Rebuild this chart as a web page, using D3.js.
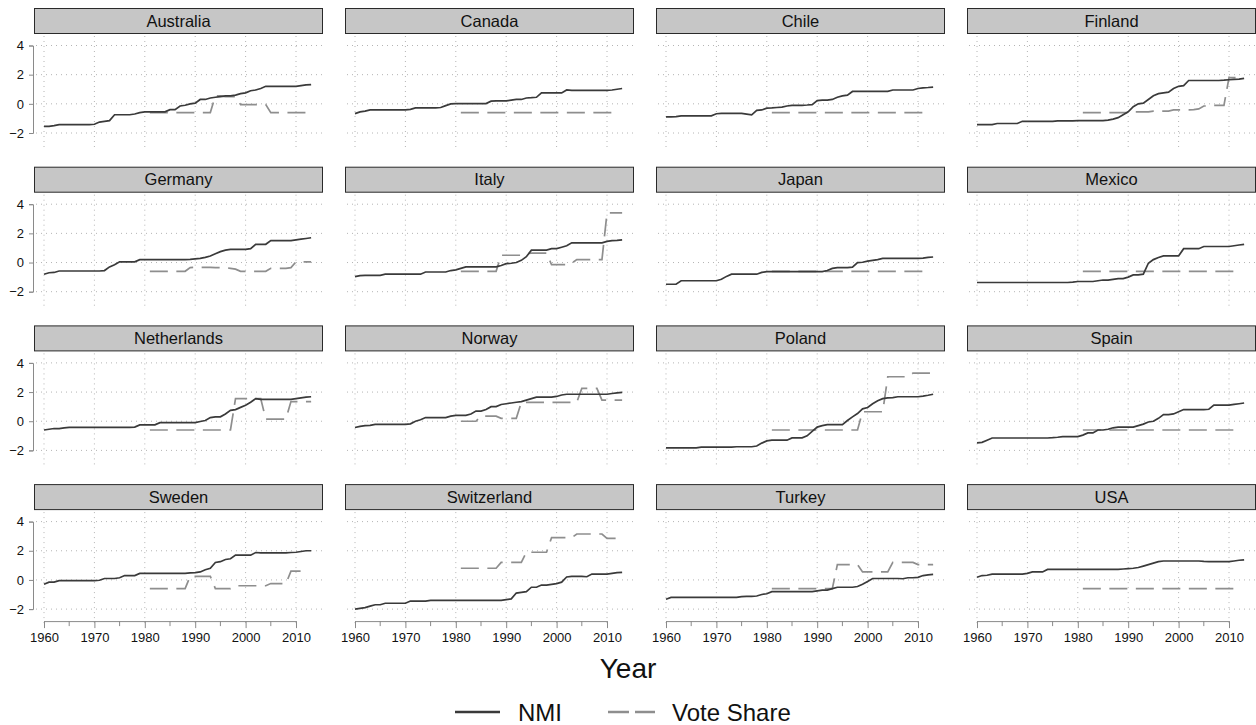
<!DOCTYPE html>
<html>
<head>
<meta charset="utf-8">
<script src="https://cdn.jsdelivr.net/npm/d3@7"></script>
<style>
  body { margin: 0; background: #fff; }
  svg { display: block; font-family: "Liberation Sans", Arial, Helvetica, sans-serif; }
</style>
</head>
<body>
<svg id="chart" width="1256" height="725"></svg>
<script>
// categories and ticks
const countries = ["Australia", "Canada", "Chile", "Finland", "Germany", "Italy", "Japan", "Mexico",
  "Netherlands", "Norway", "Poland", "Spain", "Sweden", "Switzerland", "Turkey", "USA"];
const xTicks = [1960, 1970, 1980, 1990, 2000, 2010];
const xMinorTicks = [1965, 1975, 1985, 1995, 2005];
const yTicks = [-2, 0, 2, 4];
const nmiStart = 1960;   // NMI series: one value per year from 1960
const voteStart = 1981;  // vote share series: one value per year from 1981

// NMI, 1960-2013
const nmiAustralia = [-1.54,-1.54,-1.5,-1.43,-1.43,-1.43,-1.43,-1.43,-1.43,-1.43,
  -1.4,-1.25,-1.2,-1.15,-0.75,-0.75,-0.75,-0.75,-0.7,-0.6,
  -0.55,-0.55,-0.55,-0.55,-0.55,-0.4,-0.4,-0.15,-0.1,0.0,
  0.05,0.3,0.3,0.4,0.45,0.5,0.55,0.55,0.6,0.7,
  0.75,0.9,0.95,1.05,1.2,1.2,1.2,1.2,1.2,1.2,
  1.2,1.25,1.3,1.32];
const nmiCanada = [-0.67,-0.55,-0.5,-0.42,-0.42,-0.42,-0.42,-0.42,-0.42,-0.42,
  -0.42,-0.38,-0.28,-0.28,-0.28,-0.28,-0.28,-0.25,-0.12,0.0,
  0.02,0.02,0.02,0.02,0.02,0.02,0.02,0.18,0.2,0.2,
  0.2,0.25,0.3,0.3,0.4,0.42,0.45,0.75,0.75,0.75,
  0.75,0.75,0.95,0.92,0.92,0.92,0.92,0.92,0.92,0.92,
  0.92,0.95,1.0,1.05];
const nmiChile = [-0.9,-0.9,-0.88,-0.82,-0.82,-0.82,-0.82,-0.82,-0.82,-0.82,
  -0.68,-0.65,-0.65,-0.65,-0.65,-0.65,-0.7,-0.75,-0.45,-0.42,
  -0.3,-0.28,-0.25,-0.22,-0.15,-0.1,-0.1,-0.1,-0.08,-0.05,
  0.22,0.25,0.25,0.3,0.45,0.55,0.6,0.85,0.85,0.85,
  0.85,0.85,0.85,0.85,0.85,0.95,0.95,0.95,0.95,0.95,
  1.05,1.1,1.12,1.15];
const nmiFinland = [-1.43,-1.43,-1.43,-1.43,-1.35,-1.35,-1.35,-1.35,-1.35,-1.2,
  -1.2,-1.2,-1.2,-1.2,-1.2,-1.2,-1.17,-1.17,-1.17,-1.17,
  -1.15,-1.15,-1.15,-1.15,-1.15,-1.15,-1.12,-1.05,-0.95,-0.75,
  -0.55,-0.2,0.0,0.05,0.3,0.55,0.7,0.75,0.8,1.05,
  1.2,1.25,1.6,1.6,1.6,1.6,1.6,1.6,1.6,1.62,
  1.65,1.68,1.7,1.75];
const nmiGermany = [-0.8,-0.7,-0.68,-0.58,-0.58,-0.58,-0.58,-0.58,-0.58,-0.58,
  -0.58,-0.58,-0.55,-0.3,-0.15,0.05,0.05,0.05,0.05,0.2,
  0.2,0.2,0.2,0.2,0.2,0.2,0.2,0.2,0.2,0.22,
  0.25,0.28,0.35,0.45,0.6,0.75,0.85,0.9,0.9,0.9,
  0.9,0.95,1.25,1.25,1.25,1.5,1.5,1.5,1.5,1.5,
  1.55,1.6,1.65,1.7];
const nmiItaly = [-0.97,-0.9,-0.88,-0.88,-0.88,-0.88,-0.8,-0.8,-0.8,-0.8,
  -0.8,-0.8,-0.8,-0.8,-0.65,-0.65,-0.65,-0.65,-0.65,-0.55,
  -0.5,-0.4,-0.3,-0.3,-0.3,-0.3,-0.3,-0.3,-0.3,-0.2,
  -0.08,-0.05,0.0,0.15,0.4,0.85,0.85,0.85,0.85,0.95,
  0.95,1.05,1.15,1.35,1.35,1.35,1.35,1.35,1.35,1.35,
  1.45,1.5,1.52,1.55];
const nmiJapan = [-1.49,-1.49,-1.49,-1.25,-1.25,-1.25,-1.25,-1.25,-1.25,-1.25,
  -1.25,-1.15,-0.95,-0.8,-0.8,-0.8,-0.8,-0.8,-0.8,-0.68,
  -0.62,-0.62,-0.62,-0.62,-0.62,-0.62,-0.62,-0.62,-0.62,-0.62,
  -0.62,-0.62,-0.55,-0.4,-0.35,-0.35,-0.35,-0.32,0.0,0.02,
  0.1,0.15,0.2,0.28,0.28,0.28,0.28,0.28,0.28,0.28,
  0.28,0.3,0.35,0.38];
const nmiMexico = [-1.37,-1.37,-1.37,-1.37,-1.37,-1.37,-1.37,-1.37,-1.37,-1.37,
  -1.37,-1.37,-1.37,-1.37,-1.37,-1.37,-1.37,-1.37,-1.37,-1.34,
  -1.3,-1.3,-1.3,-1.3,-1.25,-1.2,-1.2,-1.15,-1.1,-1.1,
  -1.0,-0.85,-0.85,-0.8,-0.05,0.2,0.35,0.45,0.45,0.45,
  0.45,0.95,0.95,0.95,0.95,1.1,1.1,1.1,1.1,1.1,
  1.1,1.15,1.2,1.25];
const nmiNetherlands = [-0.6,-0.55,-0.5,-0.5,-0.45,-0.42,-0.42,-0.42,-0.42,-0.42,
  -0.42,-0.42,-0.42,-0.42,-0.42,-0.42,-0.42,-0.42,-0.4,-0.25,
  -0.25,-0.25,-0.25,-0.1,-0.1,-0.1,-0.1,-0.1,-0.1,-0.1,
  -0.1,-0.02,0.05,0.25,0.3,0.3,0.5,0.75,0.8,0.95,
  1.1,1.3,1.55,1.5,1.5,1.5,1.5,1.5,1.5,1.5,
  1.55,1.6,1.65,1.68];
const nmiNorway = [-0.43,-0.35,-0.3,-0.28,-0.22,-0.22,-0.22,-0.22,-0.22,-0.22,
  -0.22,-0.18,0.0,0.1,0.25,0.25,0.25,0.25,0.25,0.35,
  0.4,0.4,0.4,0.5,0.7,0.7,0.8,1.0,1.0,1.15,
  1.2,1.25,1.3,1.35,1.45,1.55,1.65,1.65,1.65,1.65,
  1.7,1.8,1.85,1.85,1.85,1.85,1.85,1.85,1.85,1.85,
  1.85,1.9,1.95,1.98];
const nmiPoland = [-1.83,-1.83,-1.83,-1.83,-1.83,-1.83,-1.83,-1.78,-1.78,-1.78,
  -1.78,-1.78,-1.78,-1.78,-1.75,-1.75,-1.75,-1.75,-1.7,-1.5,
  -1.35,-1.3,-1.3,-1.3,-1.3,-1.14,-1.14,-1.14,-1.0,-0.7,
  -0.4,-0.3,-0.23,-0.23,-0.23,-0.23,0.05,0.3,0.53,0.85,
  0.94,1.2,1.4,1.55,1.6,1.62,1.68,1.68,1.68,1.68,
  1.68,1.72,1.78,1.85];
const nmiSpain = [-1.49,-1.45,-1.3,-1.15,-1.15,-1.15,-1.15,-1.15,-1.15,-1.15,
  -1.15,-1.15,-1.15,-1.15,-1.15,-1.13,-1.1,-1.05,-1.05,-1.05,
  -1.05,-0.95,-0.8,-0.8,-0.6,-0.6,-0.55,-0.45,-0.4,-0.4,
  -0.4,-0.4,-0.3,-0.2,-0.05,0.0,0.2,0.45,0.45,0.5,
  0.65,0.8,0.8,0.8,0.8,0.8,0.82,1.1,1.1,1.1,
  1.1,1.15,1.2,1.25];
const nmiSweden = [-0.3,-0.15,-0.15,-0.05,-0.05,-0.05,-0.05,-0.05,-0.05,-0.05,
  -0.05,-0.02,0.1,0.1,0.1,0.15,0.3,0.3,0.3,0.45,
  0.45,0.45,0.45,0.45,0.45,0.45,0.45,0.45,0.45,0.48,
  0.5,0.55,0.7,0.8,1.2,1.25,1.4,1.45,1.7,1.7,
  1.7,1.7,1.88,1.85,1.85,1.85,1.85,1.85,1.85,1.88,
  1.9,1.95,2.0,2.0];
const nmiSwitzerland = [-2.0,-1.95,-1.9,-1.8,-1.7,-1.7,-1.6,-1.6,-1.6,-1.6,
  -1.6,-1.45,-1.45,-1.45,-1.45,-1.4,-1.4,-1.4,-1.4,-1.4,
  -1.4,-1.4,-1.4,-1.4,-1.4,-1.4,-1.4,-1.4,-1.4,-1.4,
  -1.35,-1.3,-0.9,-0.85,-0.8,-0.5,-0.5,-0.35,-0.35,-0.3,
  -0.25,-0.15,0.2,0.25,0.25,0.25,0.22,0.4,0.4,0.4,
  0.4,0.45,0.5,0.52];
const nmiTurkey = [-1.32,-1.2,-1.2,-1.2,-1.2,-1.2,-1.2,-1.2,-1.2,-1.2,
  -1.2,-1.2,-1.2,-1.2,-1.2,-1.15,-1.13,-1.13,-1.1,-1.0,
  -0.95,-0.8,-0.8,-0.8,-0.8,-0.8,-0.8,-0.8,-0.8,-0.8,
  -0.75,-0.7,-0.7,-0.6,-0.5,-0.5,-0.5,-0.5,-0.45,-0.3,
  -0.1,0.1,0.1,0.1,0.1,0.1,0.1,0.08,0.15,0.15,
  0.18,0.3,0.35,0.38];
const nmiUSA = [0.18,0.3,0.32,0.4,0.4,0.4,0.4,0.4,0.4,0.4,
  0.45,0.55,0.55,0.55,0.72,0.72,0.72,0.72,0.72,0.72,
  0.72,0.72,0.72,0.72,0.72,0.72,0.72,0.72,0.72,0.75,
  0.78,0.8,0.85,0.95,1.05,1.15,1.25,1.3,1.3,1.3,
  1.3,1.3,1.3,1.3,1.3,1.27,1.25,1.25,1.25,1.25,
  1.25,1.3,1.35,1.38];

// Vote share, from 1981
const voteAustralia = [-0.6,-0.6,-0.6,-0.6,-0.6,-0.6,-0.6,-0.6,-0.6,-0.6,-0.6,-0.6,-0.6,
  0.55,0.55,0.5,0.5,0.5,-0.05,-0.05,-0.05,-0.05,-0.05,-0.05,
  -0.6,-0.6,-0.6,-0.6,-0.6,-0.6,-0.6,-0.6,-0.6];
const voteCanada = [-0.6,-0.6,-0.6,-0.6,-0.6,-0.6,-0.6,-0.6,-0.6,-0.6,-0.6,-0.6,-0.6,-0.6,-0.6,-0.6,
  -0.6,-0.6,-0.6,-0.6,-0.6,-0.6,-0.6,-0.6,-0.6,-0.6,-0.6,-0.6,-0.6,-0.6,-0.6,-0.6];
const voteChile = [-0.6,-0.6,-0.6,-0.6,-0.6,-0.6,-0.6,-0.6,-0.6,-0.6,-0.6,-0.6,-0.6,-0.6,-0.6,-0.6,
  -0.6,-0.6,-0.6,-0.6,-0.6,-0.6,-0.6,-0.6,-0.6,-0.6,-0.6,-0.6,-0.6,-0.6,-0.6,-0.6];
const voteFinland = [-0.6,-0.6,-0.6,-0.6,-0.6,-0.6,-0.6,-0.6,-0.6,-0.6,
  -0.55,-0.55,-0.55,-0.55,-0.5,-0.5,-0.5,-0.5,-0.42,-0.42,-0.42,-0.42,
  -0.4,-0.35,-0.15,-0.15,-0.1,-0.1,-0.1,1.8,1.8,1.8];
const voteGermany = [-0.6,-0.6,-0.6,-0.6,-0.6,-0.6,-0.6,-0.6,-0.35,-0.33,-0.33,-0.33,-0.33,
  -0.35,-0.35,-0.35,-0.4,-0.45,-0.6,-0.6,-0.6,-0.6,-0.6,-0.6,
  -0.4,-0.4,-0.4,-0.4,-0.35,0.05,0.05,0.05,0.05];
const voteItaly = [-0.6,-0.6,-0.6,-0.6,-0.6,-0.6,-0.6,-0.6,0.5,0.5,0.5,0.5,0.5,
  0.6,0.65,0.65,0.65,0.65,-0.15,-0.15,-0.15,-0.15,-0.05,
  0.2,0.2,0.2,0.2,0.2,0.2,3.4,3.4,3.4,3.4];
const voteJapan = [-0.6,-0.6,-0.6,-0.6,-0.6,-0.6,-0.6,-0.6,-0.6,-0.6,-0.6,-0.6,-0.6,-0.6,-0.6,-0.6,
  -0.6,-0.6,-0.6,-0.6,-0.6,-0.6,-0.6,-0.6,-0.6,-0.6,-0.6,-0.6,-0.6,-0.6,-0.6,-0.6];
const voteMexico = [-0.6,-0.6,-0.6,-0.6,-0.6,-0.6,-0.6,-0.6,-0.6,-0.6,-0.6,-0.6,-0.6,-0.6,-0.6,-0.6,
  -0.6,-0.6,-0.6,-0.6,-0.6,-0.6,-0.6,-0.6,-0.6,-0.6,-0.6,-0.6,-0.6,-0.6,-0.6,-0.6];
const voteNetherlands = [-0.6,-0.6,-0.6,-0.6,-0.6,-0.6,-0.6,-0.6,-0.6,-0.6,-0.6,-0.6,-0.6,-0.6,-0.6,-0.6,-0.6,
  1.55,1.55,1.55,1.55,1.55,1.55,0.15,0.15,0.15,0.15,0.15,1.35,1.35,1.35,1.35,1.35];
const voteNorway = [0.0,0.0,0.0,0.0,0.35,0.35,0.35,0.35,0.2,0.2,0.2,0.2,
  1.3,1.3,1.3,1.3,1.3,1.3,1.3,1.3,1.3,1.3,1.3,1.3,
  2.25,2.25,2.25,2.25,1.45,1.45,1.45,1.45,1.45];
const votePoland = [-0.6,-0.6,-0.6,-0.6,-0.6,-0.6,-0.6,-0.6,-0.6,-0.6,-0.6,-0.6,-0.6,-0.6,-0.6,-0.6,-0.6,-0.6,
  0.65,0.65,0.65,0.65,0.65,3.05,3.05,3.05,3.05,3.05,3.3,3.3,3.3,3.3,3.3];
const voteSpain = [-0.6,-0.6,-0.6,-0.6,-0.6,-0.6,-0.6,-0.6,-0.6,-0.6,-0.6,-0.6,-0.6,-0.6,-0.6,-0.6,
  -0.6,-0.6,-0.6,-0.6,-0.6,-0.6,-0.6,-0.6,-0.6,-0.6,-0.6,-0.6,-0.6,-0.6,-0.6,-0.6];
const voteSweden = [-0.6,-0.6,-0.6,-0.6,-0.6,-0.6,-0.6,-0.6,0.25,0.25,0.25,0.25,0.25,
  -0.6,-0.6,-0.6,-0.6,-0.4,-0.4,-0.4,-0.4,-0.4,-0.4,-0.4,
  -0.25,-0.25,-0.25,-0.25,0.6,0.6,0.6];
const voteSwitzerland = [0.8,0.8,0.8,0.8,0.8,0.8,0.8,0.8,1.2,1.2,1.2,1.2,1.2,
  1.9,1.9,1.9,1.9,1.9,2.9,2.9,2.9,2.9,2.9,3.15,3.15,3.15,3.15,3.15,3.15,
  2.85,2.85,2.85,2.85];
const voteTurkey = [-0.6,-0.6,-0.6,-0.6,-0.6,-0.6,-0.6,-0.6,-0.6,-0.6,-0.6,-0.6,-0.6,
  1.05,1.05,1.05,1.05,1.05,0.55,0.55,0.55,0.55,0.55,0.55,
  1.2,1.2,1.2,1.2,1.2,1.05,1.05,1.05,1.05];
const voteUSA = [-0.6,-0.6,-0.6,-0.6,-0.6,-0.6,-0.6,-0.6,-0.6,-0.6,-0.6,-0.6,-0.6,-0.6,-0.6,-0.6,
  -0.6,-0.6,-0.6,-0.6,-0.6,-0.6,-0.6,-0.6,-0.6,-0.6,-0.6,-0.6,-0.6,-0.6,-0.6,-0.6];

const nmiSeries = [nmiAustralia, nmiCanada, nmiChile, nmiFinland, nmiGermany, nmiItaly, nmiJapan, nmiMexico,
  nmiNetherlands, nmiNorway, nmiPoland, nmiSpain, nmiSweden, nmiSwitzerland, nmiTurkey, nmiUSA];
const voteSeries = [voteAustralia, voteCanada, voteChile, voteFinland, voteGermany, voteItaly, voteJapan, voteMexico,
  voteNetherlands, voteNorway, votePoland, voteSpain, voteSweden, voteSwitzerland, voteTurkey, voteUSA];

const toPoints = (arr, start) => arr.map((v, i) => ({ year: start + i, value: v }));
const panels = countries.map((name, i) => ({
  name,
  nmi: toPoints(nmiSeries[i], nmiStart),
  vote: toPoints(voteSeries[i], voteStart)
}));

// layout
const nCols = 4;
const panelW = 289, colStep = 311, rowStep = 158.7;
const left0 = 34, top0 = 8;
const stripH = 25, plotTop = 28, plotBottom = 137;

const x = d3.scaleLinear().domain([1960, 2010]).range([10, 262]);
const y = d3.scaleLinear().domain([-2, 4]).range([125, 37.5]);

const svg = d3.select("#chart");
const line = d3.line().x(d => x(d.year)).y(d => y(d.value));

panels.forEach((p, i) => {
  const c = i % nCols, r = Math.floor(i / nCols);
  const g = svg.append("g")
    .attr("transform", `translate(${left0 + c * colStep},${top0 + r * rowStep})`);

  // strip
  g.append("rect")
    .attr("x", 0.5).attr("y", 0.5)
    .attr("width", panelW - 1).attr("height", stripH)
    .attr("fill", "#c6c6c6").attr("stroke", "#2a2a2a").attr("stroke-width", 1);
  g.append("text")
    .attr("x", panelW / 2).attr("y", 18.5)
    .attr("text-anchor", "middle")
    .attr("font-size", 16.5).attr("fill", "#111")
    .text(p.name);

  // dotted grid
  g.selectAll(".hgrid").data(yTicks).join("line")
    .attr("x1", 2).attr("x2", panelW)
    .attr("y1", d => y(d)).attr("y2", d => y(d))
    .attr("stroke", "#b4b4b4").attr("stroke-width", 1)
    .attr("stroke-dasharray", "1,4");
  g.selectAll(".vgrid").data(xTicks).join("line")
    .attr("x1", d => x(d)).attr("x2", d => x(d))
    .attr("y1", plotTop).attr("y2", plotBottom + 2)
    .attr("stroke", "#b4b4b4").attr("stroke-width", 1)
    .attr("stroke-dasharray", "1,4");

  // series
  g.append("path").datum(p.vote)
    .attr("d", line)
    .attr("fill", "none").attr("stroke", "#8e8e8e").attr("stroke-width", 1.7)
    .attr("stroke-dasharray", "18,8.5");
  g.append("path").datum(p.nmi)
    .attr("d", line)
    .attr("fill", "none").attr("stroke", "#3a3a3a").attr("stroke-width", 1.7);

  // y axis on first column
  if (c === 0) {
    const ya = g.append("g").attr("transform", "translate(-1,0)")
      .call(d3.axisLeft(y).tickValues(yTicks).tickSize(4).tickPadding(5).tickFormat(d3.format("d")));
    ya.select(".domain").attr("stroke", "#8a8a8a");
    ya.selectAll(".tick line").attr("stroke", "#8a8a8a");
    ya.selectAll("text").attr("font-size", 13).attr("fill", "#111")
      .attr("font-family", "'Liberation Sans', Arial, sans-serif");
  }

  // x axis on bottom row
  if (r === 3) {
    const xa = g.append("g").attr("transform", `translate(0,${plotBottom})`);
    xa.call(d3.axisBottom(x).tickValues(xTicks).tickSize(7).tickPadding(5).tickFormat(d3.format("d")));
    xa.select(".domain").attr("stroke", "#8a8a8a").attr("d", `M${x(1960)},0.5H${x(2010)}`);
    xa.selectAll(".tick line").attr("stroke", "#8a8a8a");
    xa.selectAll("text").attr("font-size", 13).attr("fill", "#111")
      .attr("font-family", "'Liberation Sans', Arial, sans-serif");
    xa.selectAll(".minor").data(xMinorTicks).join("line")
      .attr("x1", d => x(d)).attr("x2", d => x(d))
      .attr("y1", 0).attr("y2", 5)
      .attr("stroke", "#8a8a8a");
  }
});

// axis title
svg.append("text")
  .attr("x", 628).attr("y", 678)
  .attr("text-anchor", "middle")
  .attr("font-size", 28).attr("fill", "#111")
  .text("Year");

// legend
const legend = svg.append("g");
legend.append("line")
  .attr("x1", 455).attr("x2", 500).attr("y1", 712).attr("y2", 712)
  .attr("stroke", "#3a3a3a").attr("stroke-width", 2.6);
legend.append("text")
  .attr("x", 518).attr("y", 720.5)
  .attr("font-size", 24).attr("fill", "#111")
  .text("NMI");
legend.append("line")
  .attr("x1", 608).attr("x2", 655).attr("y1", 712).attr("y2", 712)
  .attr("stroke", "#8e8e8e").attr("stroke-width", 2.6)
  .attr("stroke-dasharray", "21,6");
legend.append("text")
  .attr("x", 672).attr("y", 720.5)
  .attr("font-size", 24).attr("fill", "#111")
  .text("Vote Share");
</script>
</body>
</html>
